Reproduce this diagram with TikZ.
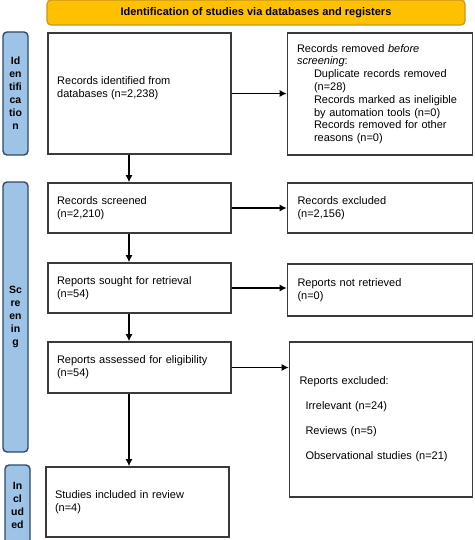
\documentclass[tikz,border=0pt]{standalone}
\usepackage{fontspec}
\setmainfont{Liberation Sans}
\usetikzlibrary{arrows.meta}
\definecolor{hdr}{HTML}{FFC000}
\definecolor{hdrb}{HTML}{C9971C}
\definecolor{side}{HTML}{9DC3E6}
\definecolor{sideb}{HTML}{2E4A66}
\definecolor{bx}{HTML}{3A3A3A}
\begin{document}
\begin{tikzpicture}[x=1pt,y=-1pt,
  box/.style={draw=bx,line width=1.6pt,fill=white,inner xsep=9pt,inner ysep=0pt,align=left,anchor=center,font=\fontsize{11}{12.8}\selectfont},
  sidebox/.style={draw=sideb,line width=1.4pt,fill=side,rounded corners=4pt,align=center,inner sep=0pt,minimum width=25pt,font=\fontsize{10.5}{13}\selectfont\bfseries},
  arr/.style={draw=black,line width=1.3pt,-{Latex[length=7pt,width=7pt]}}]
\useasboundingbox (0,0) rectangle (474,540);

% header
\node[draw=hdrb,line width=1.2pt,fill=hdr,rounded corners=4pt,minimum width=418pt,minimum height=25pt,inner sep=0pt,font=\fontsize{11}{13}\selectfont\bfseries] (hdr) at (256,12.5) {Identification of studies via databases and registers};

% side labels
\node[sidebox,minimum height=123pt] (sid) at (15.5,93.5) {Id\\en\\tifi\\ca\\tio\\n};
\node[sidebox,minimum height=270pt] (sscr) at (15.5,317) {Sc\\re\\en\\in\\g};
\node[sidebox,minimum height=80pt] (sinc) at (17.5,505) {In\\cl\\ud\\ed};

% left column
\node[box,text width=165pt,minimum height=121pt] (b1) at (139.5,93.5) {};
\node[anchor=west,inner sep=0pt,align=left,font=\fontsize{11}{12.8}\selectfont] (t1) at (57,88.5) {Records identified from\\databases (n=2,238)};
\node[box,text width=165pt,minimum height=50pt] (b2) at (139.5,208) {Records screened\\(n=2,210)};
\node[box,text width=165pt,minimum height=50pt] (b3) at (139.5,288) {Reports sought for retrieval\\(n=54)};
\node[box,text width=165pt,minimum height=51pt] (b4) at (139.5,367.5) {Reports assessed for eligibility\\(n=54)};
\node[box,text width=165pt,minimum height=70pt] (b5) at (137.5,502) {Studies included in review\\(n=4)};

% right column
\node[box,text width=166pt,inner xsep=9.5pt,minimum height=122pt] (r1) at (380,94) {Records removed \textit{before}\\\textit{screening}:\\\hspace*{17pt}Duplicate records removed\\\hspace*{17pt}(n=28)\\\hspace*{17pt}Records marked as ineligible\\\hspace*{17pt}by automation tools (n=0)\\\hspace*{17pt}Records removed for other\\\hspace*{17pt}reasons (n=0)};
\node[box,text width=165pt,inner xsep=10pt,minimum height=50pt] (r2) at (380,208) {Records excluded\\(n=2,156)};
\node[box,text width=165pt,inner xsep=10pt,minimum height=52pt] (r3) at (380,290) {Reports not retrieved\\(n=0)};
\node[box,text width=163pt,inner xsep=10pt,minimum height=155pt] (r4) at (381,419.5) {Reports excluded:\\[12.2pt]\hspace*{6pt}Irrelevant (n=24)\\[12.2pt]\hspace*{6pt}Reviews (n=5)\\[12.2pt]\hspace*{6pt}Observational studies (n=21)};

% connectors
\coordinate (ax) at (129,0);
\draw[arr] (b1.south -| ax) -- (b2.north -| ax);
\draw[arr] (b2.south -| ax) -- (b3.north -| ax);
\draw[arr] (b3.south -| ax) -- (b4.north -| ax);
\draw[arr] (b4.south -| ax) -- (b5.north -| ax);
\draw[arr] (b1.east) -- (r1.west |- b1.east);
\draw[arr] (b2.east) -- (r2.west |- b2.east);
\draw[arr] (b3.east) -- (r3.west |- b3.east);
\draw[arr] (b4.east) -- (r4.west |- b4.east);
\end{tikzpicture}
\end{document}
